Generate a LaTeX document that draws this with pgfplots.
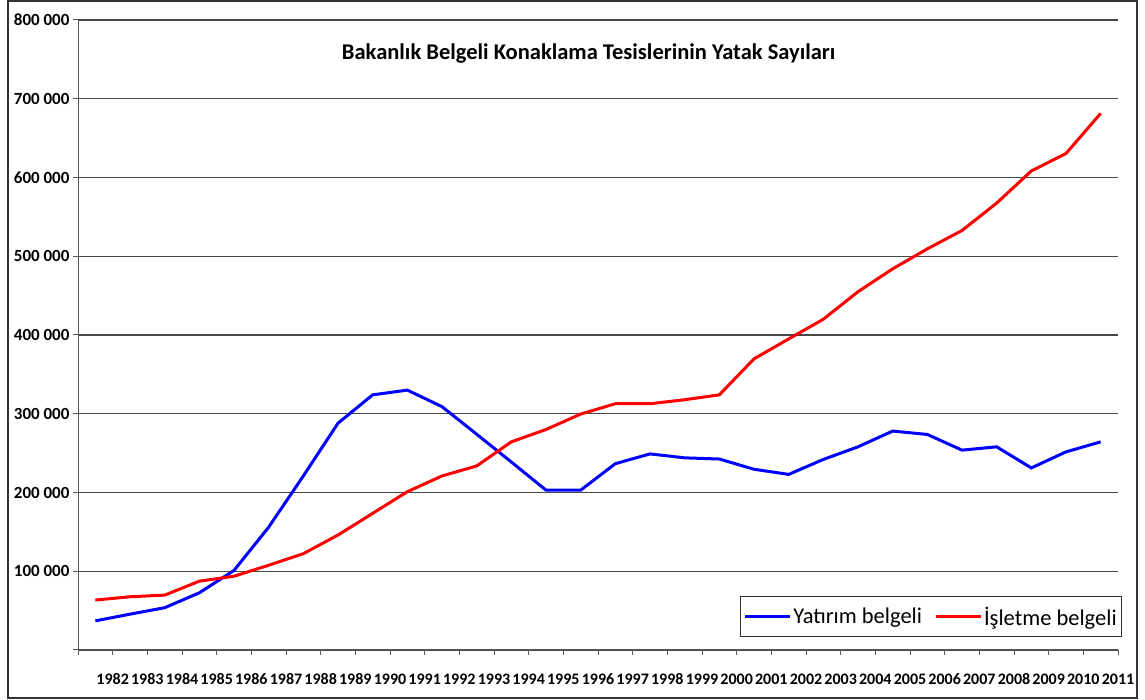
\documentclass[border=0pt]{standalone}
\usepackage{pgfplots}
\pgfplotsset{compat=1.18}
\usepackage{pgfplotstable}
\usepackage{fontspec}
\setmainfont{Carlito}

\pgfplotstableread{
x yat isl
0 37000 63400
1 45500 67600
2 53700 69700
3 72600 87400
4 101000 93700
5 156000 107600
6 221000 122300
7 288000 146000
8 324000 173500
9 330000 201000
10 309000 221000
11 274000 233700
12 238700 264300
13 203000 280000
14 203000 299600
15 236600 312700
16 249000 312700
17 244000 317800
18 242500 324000
19 229500 369700
20 223000 395000
21 242000 420000
22 258000 455000
23 278000 484000
24 273700 509400
25 253800 532700
26 258000 567500
27 231200 608300
28 251600 630500
29 264300 681400
}\datatable

\begin{document}
\begin{tikzpicture}[x=1pt,y=1pt]
\path[use as bounding box] (0,0) rectangle (1145,700);
\draw[line width=2pt, black!80] (7.5,1.5) rectangle (1136.5,699);
\begin{axis}[
  at={(78pt,50pt)}, anchor=south west,
  scale only axis, width=1040pt, height=630pt,
  xmin=-0.5, xmax=29.5, ymin=0, ymax=800000,
  axis x line*=bottom, axis y line*=left,
  axis line style={black!65, line width=1pt},
  tick align=outside, major tick length=5pt,
  tick style={black!65, line width=1pt},
  xtick={-0.5,0.5,...,29.5},
  xticklabels={,1982,1983,1984,1985,1986,1987,1988,1989,1990,1991,1992,1993,1994,1995,1996,1997,1998,1999,2000,2001,2002,2003,2004,2005,2006,2007,2008,2009,2010,2011},
  xticklabel style={font=\bfseries\fontsize{16}{18}\selectfont, yshift=-15pt},
  ytick={0,100000,...,800000},
  yticklabels={,100 000,200 000,300 000,400 000,500 000,600 000,700 000,800 000},
  yticklabel style={font=\bfseries\fontsize{17}{19}\selectfont},
  scaled y ticks=false,
  ymajorgrids, major grid style={black!72, line width=1.2pt},
  title={Bakanlık Belgeli Konaklama Tesislerinin Yatak Sayıları},
  title style={at={(axis description cs:0.491,0.938)}, anchor=center, font=\bfseries\fontsize{22.5}{26}\selectfont},
  legend style={at={(axis description cs:1.004,0.0206)}, anchor=south east, draw=black!80, line width=1pt, font=\fontsize{22.5}{26}\selectfont, inner xsep=3pt, inner ysep=8pt},
  legend columns=2,
  legend image code/.code={\draw[#1] (0pt,0pt) -- (45pt,0pt);},
  /tikz/every even column/.append style={column sep=10pt},
]
\addplot[blue, line width=3pt] table[x=x, y=yat] {\datatable};
\addlegendentry{Yatırım belgeli}
\addplot[red, line width=3pt] table[x=x, y=isl] {\datatable};
\addlegendentry{İşletme belgeli}
\end{axis}
\end{tikzpicture}
\end{document}
